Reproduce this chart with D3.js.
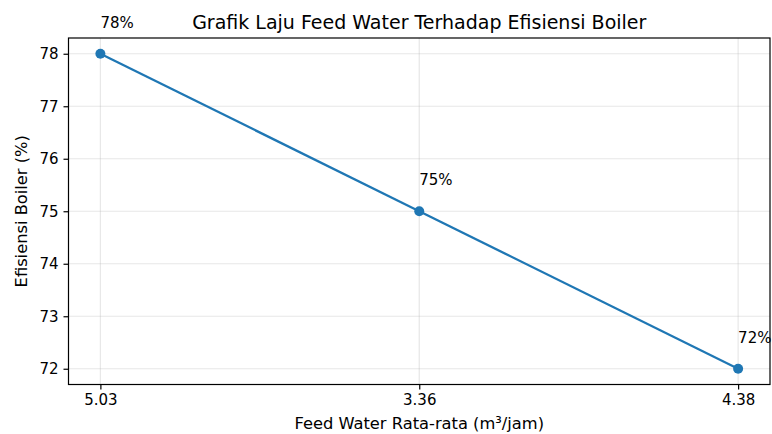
<!DOCTYPE html>
<html>
<head>
<meta charset="utf-8">
<script src="https://cdn.jsdelivr.net/npm/d3@7"></script>
<style>
  body { margin: 0; background: #fff; }
  svg { display: block; font-family: "DejaVu Sans", sans-serif; }
</style>
</head>
<body>
<svg id="chart" width="772" height="434"></svg>
<script>
const categories = ["5.03", "3.36", "4.38"];
const efficiency = [78, 75, 72];
const yTicks = [72, 73, 74, 75, 76, 77, 78];
const title = "Grafik Laju Feed Water Terhadap Efisiensi Boiler";
const xLabel = "Feed Water Rata-rata (m³/jam)";
const yLabel = "Efisiensi Boiler (%)";

const svg = d3.select("#chart");
const L = 68.5, R = 770, T = 38, B = 384.5;
const color = "#1f77b4";

const x = d3.scaleLinear().domain([-0.1, categories.length - 1 + 0.1]).range([L, R]);
const y = d3.scaleLinear().domain([71.7, 78.3]).range([B, T]);

// grid
const g = svg.append("g");
g.selectAll(".gy").data(yTicks).join("line")
  .attr("x1", L).attr("x2", R)
  .attr("y1", d => y(d)).attr("y2", d => y(d))
  .attr("stroke", "#b0b0b0").attr("stroke-opacity", 0.3).attr("stroke-width", 1.2);
g.selectAll(".gx").data(categories).join("line")
  .attr("x1", (d, i) => x(i)).attr("x2", (d, i) => x(i))
  .attr("y1", T).attr("y2", B)
  .attr("stroke", "#b0b0b0").attr("stroke-opacity", 0.3).attr("stroke-width", 1.2);

// axes
const xAxis = d3.axisBottom(x).tickValues(d3.range(categories.length))
  .tickFormat(i => categories[i]).tickSize(5).tickPadding(5);
const yAxis = d3.axisLeft(y).tickValues(yTicks).tickFormat(d3.format("d")).tickSize(5).tickPadding(5);

const gx = svg.append("g").attr("transform", `translate(0,${B})`).call(xAxis);
const gy = svg.append("g").attr("transform", `translate(${L},0)`).call(yAxis);
[gx, gy].forEach(a => {
  a.select(".domain").remove();
  a.selectAll(".tick line").attr("stroke", "#000").attr("stroke-width", 1.2);
  a.selectAll(".tick text").attr("fill", "#000").style("font-size", "15px")
    .style("font-family", "DejaVu Sans, sans-serif");
});

// frame
svg.append("rect").attr("x", L).attr("y", T).attr("width", R - L).attr("height", B - T)
  .attr("fill", "none").attr("stroke", "#000").attr("stroke-width", 1.2);

// line
const line = d3.line().x((d, i) => x(i)).y(d => y(d));
svg.append("path").datum(efficiency).attr("d", line)
  .attr("fill", "none").attr("stroke", color).attr("stroke-width", 2.25);
svg.selectAll(".pt").data(efficiency).join("circle")
  .attr("cx", (d, i) => x(i)).attr("cy", d => y(d)).attr("r", 5).attr("fill", color);

// value labels
svg.selectAll(".lbl").data(efficiency).join("text")
  .attr("x", (d, i) => x(i)).attr("y", d => y(d + 0.5))
  .attr("font-size", 15).attr("fill", "#000")
  .text(d => d + "%");

// title & labels
svg.append("text").attr("x", (L + R) / 2).attr("y", 29).attr("text-anchor", "middle")
  .attr("font-size", 19).attr("fill", "#000").text(title);
svg.append("text").attr("x", (L + R) / 2).attr("y", 429).attr("text-anchor", "middle")
  .attr("font-size", 16.3).attr("fill", "#000").text(xLabel);
svg.append("text").attr("transform", `translate(27,${(T + B) / 2}) rotate(-90)`)
  .attr("text-anchor", "middle").attr("font-size", 16.3).attr("fill", "#000").text(yLabel);
</script>
</body>
</html>
